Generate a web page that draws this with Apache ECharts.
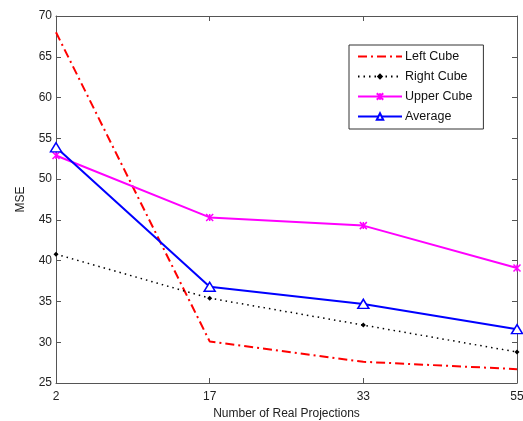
<!DOCTYPE html>
<html>
<head>
<meta charset="utf-8">
<script src="https://cdn.jsdelivr.net/npm/echarts@6/dist/echarts.min.js"></script>
<style>
  html, body { margin: 0; padding: 0; background: #fff; }
  #chart { width: 523px; height: 421px; }
</style>
</head>
<body>
<div id="chart"></div>
<script>
// data
var projections = ['2', '17', '33', '55']
var leftCube = [68.0, 30.1, 27.6, 26.7]
var rightCube = [40.8, 35.4, 32.1, 28.8]
var upperCube = [52.9, 45.3, 44.3, 39.1]
var average = [53.9, 36.8, 34.7, 31.6]
var yTicks = { min: 25, max: 70, interval: 5 }

var axisColor = '#555'
var textColor = '#222'
var font = 'Liberation Sans, Arial, sans-serif'

var chartDom = document.getElementById('chart')
var myChart = echarts.init(chartDom)

var option = {
  animation: false,
  backgroundColor: '#fff',
  textStyle: { fontFamily: font },
  grid: { left: 56, right: 6, top: 16, bottom: 38, containLabel: false, outerBoundsMode: 'none' },
  legend: {
    orient: 'vertical',
    left: 349,
    top: 45,
    itemWidth: 44,
    itemHeight: 8,
    itemGap: 7,
    padding: [5, 11, 6, 8],
    borderColor: '#333',
    borderWidth: 1,
    backgroundColor: '#fff',
    textStyle: { fontSize: 12.5, color: '#111', fontFamily: font, padding: [0, 0, 0, -2] },
    data: [
      { name: 'Left Cube', itemStyle: { opacity: 0 } },
      'Right Cube',
      'Upper Cube',
      'Average'
    ]
  },
  xAxis: [
    {
      type: 'category',
      data: projections,
      boundaryGap: false,
      name: 'Number of Real Projections',
      nameLocation: 'middle',
      nameGap: 24,
      nameTextStyle: { fontSize: 12, color: textColor, fontFamily: font },
      axisLine: { lineStyle: { color: axisColor, width: 1 } },
      axisTick: { inside: true, length: 5, lineStyle: { color: axisColor } },
      axisLabel: { fontSize: 12, color: textColor, margin: 8, fontFamily: font },
      splitLine: { show: false }
    },
    {
      type: 'category',
      data: projections,
      boundaryGap: false,
      position: 'top',
      axisLine: { lineStyle: { color: axisColor, width: 1 } },
      axisTick: { inside: true, length: 5, lineStyle: { color: axisColor } },
      axisLabel: { show: false },
      splitLine: { show: false }
    }
  ],
  yAxis: [
    {
      type: 'value',
      min: yTicks.min,
      max: yTicks.max,
      interval: yTicks.interval,
      name: 'MSE',
      nameLocation: 'middle',
      nameGap: 29,
      nameTextStyle: { fontSize: 12, color: textColor, fontFamily: font },
      axisLine: { show: true, lineStyle: { color: axisColor, width: 1 } },
      axisTick: { show: true, inside: true, length: 5, lineStyle: { color: axisColor } },
      axisLabel: { fontSize: 12, color: textColor, margin: 4, fontFamily: font },
      splitLine: { show: false }
    },
    {
      type: 'value',
      min: yTicks.min,
      max: yTicks.max,
      interval: yTicks.interval,
      position: 'right',
      axisLine: { show: true, lineStyle: { color: axisColor, width: 1 } },
      axisTick: { show: true, inside: true, length: 5, lineStyle: { color: axisColor } },
      axisLabel: { show: false },
      splitLine: { show: false }
    }
  ],
  series: [
    {
      name: 'Left Cube',
      type: 'line',
      data: leftCube,
      symbol: 'none',
      lineStyle: { color: '#ff0000', width: 2, type: [9, 4, 2, 4] },
      itemStyle: { color: '#ff0000' },
      z: 2
    },
    {
      name: 'Right Cube',
      type: 'line',
      data: rightCube,
      symbol: 'diamond',
      symbolSize: 5,
      lineStyle: { color: '#000', width: 1.5, type: [1.5, 4] },
      itemStyle: { color: '#000' },
      z: 3
    },
    {
      name: 'Upper Cube',
      type: 'line',
      data: upperCube,
      symbol: 'path://M0,0L10,10M10,0L0,10M5,0L5,10',
      symbolSize: 7,
      lineStyle: { color: '#ff00ff', width: 2 },
      itemStyle: { color: 'none', borderColor: '#ff00ff', borderWidth: 1.5 },
      z: 4
    },
    {
      name: 'Average',
      type: 'line',
      data: average,
      symbol: 'triangle',
      symbolSize: [11, 9],
      showAllSymbol: true,
      lineStyle: { color: '#0000ff', width: 2 },
      itemStyle: { color: '#fff', borderColor: '#0000ff', borderWidth: 1.5 },
      z: 5
    }
  ]
}
myChart.setOption(option)
</script>
</body>
</html>
